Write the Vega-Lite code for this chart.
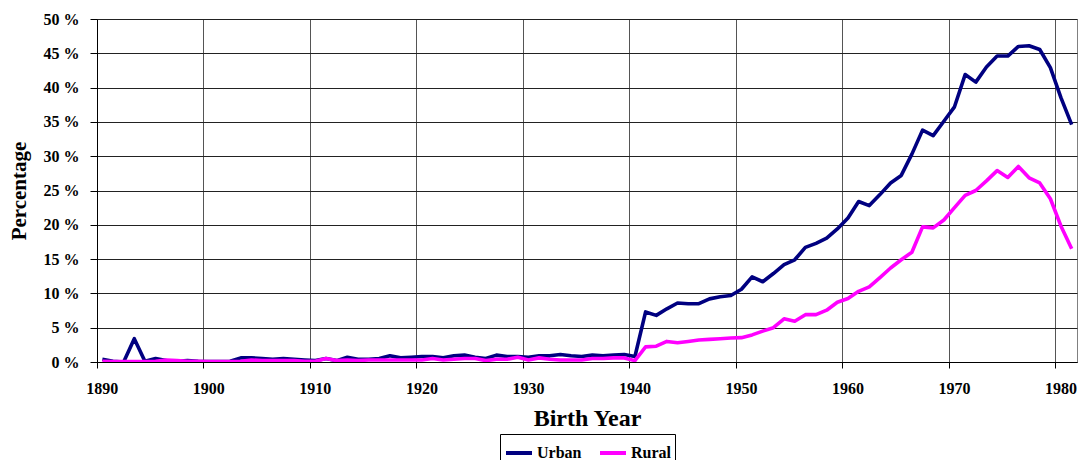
{
  "$schema": "https://vega.github.io/schema/vega-lite/v6.json",
  "width": 980,
  "height": 343,
  "autosize": "none",
  "padding": {"left": 97, "top": 19, "right": 4, "bottom": 98},
  "background": "white",
  "config": {
    "view": {"stroke": "#808080", "strokeWidth": 1},
    "font": "Liberation Serif"
  },
  "data": {
    "values": [
      {"year": 1890, "Urban": 0.4, "Rural": 0.1},
      {"year": 1891, "Urban": 0.1, "Rural": 0.05},
      {"year": 1892, "Urban": 0.0, "Rural": 0.05},
      {"year": 1893, "Urban": 3.4, "Rural": 0.05},
      {"year": 1894, "Urban": 0.1, "Rural": 0.05},
      {"year": 1895, "Urban": 0.5, "Rural": 0.1},
      {"year": 1896, "Urban": 0.2, "Rural": 0.3},
      {"year": 1897, "Urban": 0.1, "Rural": 0.2},
      {"year": 1898, "Urban": 0.2, "Rural": 0.1},
      {"year": 1899, "Urban": 0.1, "Rural": 0.1},
      {"year": 1900, "Urban": 0.05, "Rural": 0.05},
      {"year": 1901, "Urban": 0.05, "Rural": 0.05},
      {"year": 1902, "Urban": 0.1, "Rural": 0.05},
      {"year": 1903, "Urban": 0.6, "Rural": 0.1},
      {"year": 1904, "Urban": 0.6, "Rural": 0.3},
      {"year": 1905, "Urban": 0.5, "Rural": 0.2},
      {"year": 1906, "Urban": 0.4, "Rural": 0.2},
      {"year": 1907, "Urban": 0.5, "Rural": 0.2},
      {"year": 1908, "Urban": 0.4, "Rural": 0.2},
      {"year": 1909, "Urban": 0.3, "Rural": 0.1},
      {"year": 1910, "Urban": 0.2, "Rural": 0.1},
      {"year": 1911, "Urban": 0.5, "Rural": 0.5},
      {"year": 1912, "Urban": 0.2, "Rural": 0.2},
      {"year": 1913, "Urban": 0.7, "Rural": 0.3},
      {"year": 1914, "Urban": 0.4, "Rural": 0.2},
      {"year": 1915, "Urban": 0.4, "Rural": 0.3},
      {"year": 1916, "Urban": 0.5, "Rural": 0.3},
      {"year": 1917, "Urban": 0.9, "Rural": 0.3},
      {"year": 1918, "Urban": 0.6, "Rural": 0.3},
      {"year": 1919, "Urban": 0.7, "Rural": 0.3},
      {"year": 1920, "Urban": 0.8, "Rural": 0.3},
      {"year": 1921, "Urban": 0.8, "Rural": 0.5},
      {"year": 1922, "Urban": 0.6, "Rural": 0.3},
      {"year": 1923, "Urban": 0.9, "Rural": 0.4},
      {"year": 1924, "Urban": 1.0, "Rural": 0.5},
      {"year": 1925, "Urban": 0.7, "Rural": 0.5},
      {"year": 1926, "Urban": 0.5, "Rural": 0.2},
      {"year": 1927, "Urban": 1.0, "Rural": 0.4},
      {"year": 1928, "Urban": 0.8, "Rural": 0.4},
      {"year": 1929, "Urban": 0.8, "Rural": 0.7},
      {"year": 1930, "Urban": 0.7, "Rural": 0.3},
      {"year": 1931, "Urban": 0.9, "Rural": 0.6},
      {"year": 1932, "Urban": 0.9, "Rural": 0.4},
      {"year": 1933, "Urban": 1.1, "Rural": 0.3},
      {"year": 1934, "Urban": 0.9, "Rural": 0.3},
      {"year": 1935, "Urban": 0.8, "Rural": 0.3},
      {"year": 1936, "Urban": 1.0, "Rural": 0.5},
      {"year": 1937, "Urban": 0.9, "Rural": 0.5},
      {"year": 1938, "Urban": 1.0, "Rural": 0.6},
      {"year": 1939, "Urban": 1.1, "Rural": 0.6},
      {"year": 1940, "Urban": 0.8, "Rural": 0.2},
      {"year": 1941, "Urban": 7.3, "Rural": 2.2},
      {"year": 1942, "Urban": 6.8, "Rural": 2.3},
      {"year": 1943, "Urban": 7.75, "Rural": 3.0},
      {"year": 1944, "Urban": 8.6, "Rural": 2.8},
      {"year": 1945, "Urban": 8.5, "Rural": 3.0},
      {"year": 1946, "Urban": 8.5, "Rural": 3.2},
      {"year": 1947, "Urban": 9.2, "Rural": 3.3},
      {"year": 1948, "Urban": 9.5, "Rural": 3.4},
      {"year": 1949, "Urban": 9.7, "Rural": 3.5},
      {"year": 1950, "Urban": 10.6, "Rural": 3.55},
      {"year": 1951, "Urban": 12.4, "Rural": 3.95},
      {"year": 1952, "Urban": 11.7, "Rural": 4.5},
      {"year": 1953, "Urban": 12.9, "Rural": 5.0},
      {"year": 1954, "Urban": 14.2, "Rural": 6.3},
      {"year": 1955, "Urban": 14.9, "Rural": 5.95},
      {"year": 1956, "Urban": 16.7, "Rural": 6.9},
      {"year": 1957, "Urban": 17.3, "Rural": 6.9},
      {"year": 1958, "Urban": 18.05, "Rural": 7.55},
      {"year": 1959, "Urban": 19.4, "Rural": 8.7},
      {"year": 1960, "Urban": 21.0, "Rural": 9.25},
      {"year": 1961, "Urban": 23.4, "Rural": 10.3},
      {"year": 1962, "Urban": 22.8, "Rural": 10.95},
      {"year": 1963, "Urban": 24.4, "Rural": 12.3},
      {"year": 1964, "Urban": 26.1, "Rural": 13.7},
      {"year": 1965, "Urban": 27.2, "Rural": 14.9},
      {"year": 1966, "Urban": 30.3, "Rural": 16.0},
      {"year": 1967, "Urban": 33.8, "Rural": 19.7},
      {"year": 1968, "Urban": 33.0, "Rural": 19.55},
      {"year": 1969, "Urban": 35.1, "Rural": 20.7},
      {"year": 1970, "Urban": 37.2, "Rural": 22.5},
      {"year": 1971, "Urban": 41.9, "Rural": 24.3},
      {"year": 1972, "Urban": 40.8, "Rural": 25.0},
      {"year": 1973, "Urban": 43.0, "Rural": 26.4},
      {"year": 1974, "Urban": 44.6, "Rural": 27.9},
      {"year": 1975, "Urban": 44.6, "Rural": 26.9},
      {"year": 1976, "Urban": 46.0, "Rural": 28.5},
      {"year": 1977, "Urban": 46.1, "Rural": 26.85},
      {"year": 1978, "Urban": 45.55, "Rural": 26.1},
      {"year": 1979, "Urban": 42.9, "Rural": 23.8},
      {"year": 1980, "Urban": 38.5, "Rural": 19.8},
      {"year": 1981, "Urban": 34.6, "Rural": 16.5}
    ]
  },
  "transform": [{"fold": ["Urban", "Rural"], "as": ["area", "pct"]}],
  "mark": {"type": "line", "strokeWidth": 3.6, "strokeJoin": "round", "clip": true},
  "encoding": {
    "x": {
      "field": "year",
      "type": "ordinal",
      "sort": "ascending",
      "scale": {"type": "band", "paddingInner": 0, "paddingOuter": 0},
      "axis": {
        "values": [1890, 1900, 1910, 1920, 1930, 1940, 1950, 1960, 1970, 1980],
        "bandPosition": 0,
        "labelAngle": 0,
        "labelAlign": "center",
        "labelFont": "Liberation Serif",
        "labelFontWeight": "bold",
        "labelFontSize": 16,
        "labelColor": "black",
        "labelPadding": 12,
        "tickColor": "black",
        "tickSize": 6,
        "domainColor": "black",
        "grid": true,
        "gridColor": "#555555",
        "gridWidth": 1,
        "title": "Birth Year",
        "titleFont": "Liberation Serif",
        "titleFontWeight": "bold",
        "titleFontSize": 24,
        "titleColor": "black",
        "titlePadding": 10,
        "titleLetterSpacing": 1
      }
    },
    "y": {
      "field": "pct",
      "type": "quantitative",
      "scale": {"domain": [0, 50], "nice": false},
      "axis": {
        "values": [0, 5, 10, 15, 20, 25, 30, 35, 40, 45, 50],
        "labelExpr": "datum.value + ' %'",
        "labelFont": "Liberation Serif",
        "labelFontWeight": "bold",
        "labelFontSize": 16,
        "labelColor": "black",
        "labelPadding": 11,
        "tickColor": "black",
        "tickSize": 7,
        "domainColor": "black",
        "grid": true,
        "gridColor": "#222222",
        "gridWidth": 1,
        "title": "Percentage",
        "titleFont": "Liberation Serif",
        "titleFontWeight": "bold",
        "titleFontSize": 21,
        "titleColor": "black",
        "titlePadding": 14
      }
    },
    "color": {
      "field": "area",
      "type": "nominal",
      "sort": ["Urban", "Rural"],
      "scale": {"domain": ["Urban", "Rural"], "range": ["#000080", "#FF00FF"]},
      "legend": {
        "title": null,
        "orient": "none",
        "direction": "horizontal",
        "legendX": 403,
        "legendY": 415,
        "strokeColor": "black",
        "padding": 4,
        "symbolType": "stroke",
        "symbolStrokeWidth": 4,
        "symbolSize": 676,
        "labelFont": "Liberation Serif",
        "labelFontWeight": "bold",
        "labelFontSize": 16,
        "labelColor": "black",
        "columnPadding": 10,
        "labelOffset": 3
      }
    }
  }
}
